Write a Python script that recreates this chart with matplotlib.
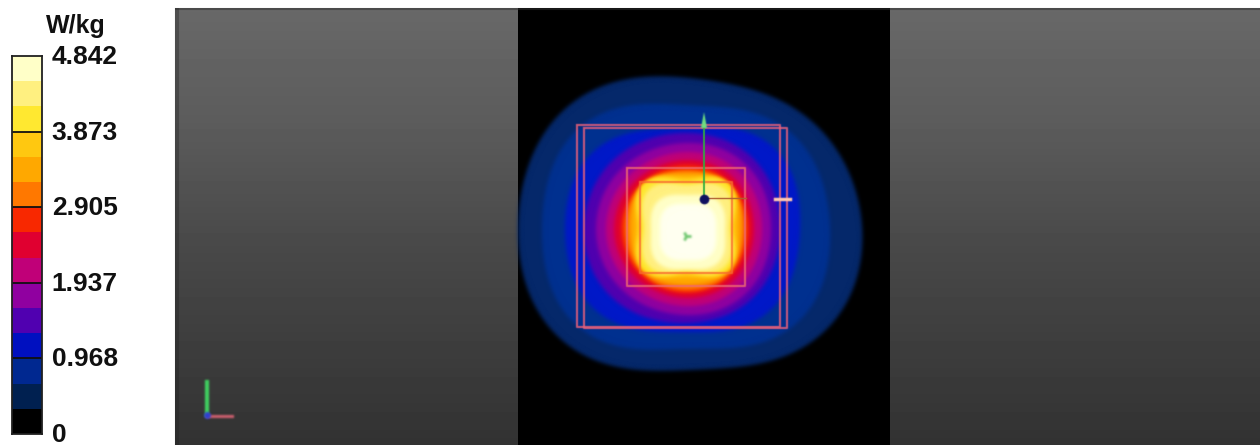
import numpy as np
import matplotlib
matplotlib.use("Agg")
import matplotlib.pyplot as plt

# ---- data ----
level_step = 4.842 / 15
band_colors = ["#000000", "#002050", "#002890", "#0010c0", "#5000b0", "#9000a0",
               "#c00078", "#e00030", "#f82800", "#ff7800", "#ffa800", "#ffc810",
               "#ffe830", "#fff080", "#ffffc8"]
tick_values = [0, 0.968, 1.937, 2.905, 3.873, 4.842]
tick_labels = ["0", "0.968", "1.937", "2.905", "3.873", "4.842"]

# colours of the contours as they look in the blurred picture
contour_colors = ["#05286a", "#003090", "#0018c8", "#5000b0", "#9000a0",
                  "#c00078", "#e00030", "#f82800", "#ff7800", "#ffa800", "#ffc810",
                  "#ffe830", "#fff080", "#ffffc8", "#fffff0"]
# contour centre x, y and radii (E, NE, N, NW, W, SW, S, SE) in image pixels
contour_cx = [690, 686, 683, 684, 686, 686, 686, 686, 686, 686, 686, 686, 687, 688, 688]
contour_cy = [225, 227, 230, 228, 229, 229, 229, 229, 229, 228, 227, 227, 228, 232, 232]
contour_r = [
    [172, 158, 147, 170, 172, 171, 145, 168],
    [144, 140, 122, 145, 144, 146, 122, 145],
    [117, 122, 102, 118, 118, 118, 102, 118],
    [96, 98, 95, 98, 100, 100, 95, 98],
    [85, 88, 86, 88, 90, 88, 86, 88],
    [76, 78, 77, 78, 80, 78, 77, 78],
    [68, 70, 69, 70, 72, 70, 69, 70],
    [63, 64, 64, 64, 65, 64, 64, 64],
    [59, 62, 59, 62, 61, 62, 61, 62],
    [55, 60, 55, 60, 56, 60, 57, 60],
    [50, 60, 50, 60, 50, 60, 50, 60],
    [46, 60, 46, 60, 46, 60, 46, 60],
    [43, 54, 43, 54, 43, 54, 43, 54],
    [37, 43, 37, 43, 37, 43, 37, 43],
    [28, 32, 28, 32, 28, 32, 28, 32],
]

panel_x = [175, 518, 890, 1260]
panel_top = 8
gradient_y = [8, 120, 250, 445]
gradient_grey = [104, 92, 72, 50]

square_edges = [(577, 780, 125, 327), (584, 787, 128, 328),
                (627, 745, 168, 286), (640, 732, 182, 273)]
square_colors = ["#e8607a", "#e8607a", "#f06a70", "#f86a30"]
probe_xy = (704, 199)
arrow_top = 112
side_mark = (775, 790)
triad_origin = (207, 415)
triad_tip_up = 382
triad_tip_right = 232
centre_mark = (686, 236)


def blur(sigma):
    def f(img, dpi):
        r = int(3 * sigma)
        k = np.exp(-0.5 * (np.arange(-r, r + 1) / sigma) ** 2)
        k /= k.sum()
        out = np.pad(img, ((r, r), (r, r), (0, 0))).astype(float)
        out[..., :3] *= out[..., 3:4]
        out = np.apply_along_axis(lambda m: np.convolve(m, k, mode="same"), 0, out)
        out = np.apply_along_axis(lambda m: np.convolve(m, k, mode="same"), 1, out)
        a = np.maximum(out[..., 3:4], 1e-4)
        out[..., :3] = np.clip(out[..., :3] / a, 0, 1)
        return out, -r, -r
    return f


W, H = 1260, 445
fig = plt.figure(figsize=(W / 100, H / 100), dpi=100, facecolor="white")
plt.rcParams["font.family"] = ["Liberation Sans", "DejaVu Sans"]

# ---- picture area, in image pixels ----
ax = fig.add_axes([0, 0, 1, 1])
ax.set_xlim(0, W)
ax.set_ylim(H, 0)
ax.axis("off")

yy = np.arange(panel_top, H)
col = np.interp(yy, gradient_y, gradient_grey)[:, None] / 255
for x0, x1 in [(panel_x[0], panel_x[1]), (panel_x[2], panel_x[3])]:
    ax.imshow(col, extent=(x0, x1, H, panel_top), cmap="gray", vmin=0, vmax=1,
              aspect="auto", zorder=1)
ax.set_xlim(0, W)
ax.set_ylim(H, 0)
ax.fill_between(panel_x[1:3], panel_top, H, color="black", lw=0, zorder=2)
ax.plot([panel_x[0], panel_x[3]], [panel_top + 1] * 2, color="#303030", lw=1.5,
        alpha=0.5, solid_capstyle="butt", zorder=2)
ax.plot([panel_x[0] + 2] * 2, [panel_top, H], color="#202020", lw=3, alpha=0.35,
        solid_capstyle="butt", zorder=2)

# closed smooth contours through the read radii (trigonometric interpolation)
theta = np.linspace(0, 2 * np.pi, 361)
for cx, cy, radii, color in zip(contour_cx, contour_cy, contour_r, contour_colors):
    spec = np.fft.rfft(radii) / len(radii)
    r = spec[0].real + sum(
        (2 if k < 4 else 1) * (spec[k] * np.exp(1j * k * theta)).real for k in range(1, 5))
    p = ax.fill(cx + r * np.cos(theta), cy - r * np.sin(theta), color=color, lw=0, zorder=3)[0]
    p.set_agg_filter(blur(2.0))

for (x0, x1, y0, y1), sq_color in zip(square_edges, square_colors):
    ln, = ax.plot([x0, x1, x1, x0, x0], [y0, y0, y1, y1, y0], color=sq_color, lw=1.5,
                  alpha=0.85, zorder=4)
    ln.set_agg_filter(blur(0.6))

g, = ax.plot([probe_xy[0]] * 2, [probe_xy[1], arrow_top + 14], color="#30b040", lw=1.3, zorder=5)
g.set_agg_filter(blur(0.5))
tri = ax.fill([probe_xy[0] - 3, probe_xy[0], probe_xy[0] + 3],
              [arrow_top + 16, arrow_top, arrow_top + 16], color="#70e080", lw=0, zorder=5)[0]
tri.set_agg_filter(blur(0.7))
h, = ax.plot([probe_xy[0], probe_xy[0] + 42], [probe_xy[1] - 1] * 2, color="#b06030", lw=1, zorder=5)
h.set_agg_filter(blur(0.4))
d, = ax.plot(*probe_xy, "o", ms=7, color="#101060", mec="none", zorder=6)
d.set_agg_filter(blur(0.6))
s, = ax.plot(side_mark, [probe_xy[1]] * 2, color="#ffc8b0", lw=2.5, zorder=6)
s.set_agg_filter(blur(0.6))
m, = ax.plot(*centre_mark, "4", ms=7, mew=2, color="#70c870", zorder=6)
m.set_agg_filter(blur(1.0))

ox, oy = triad_origin
t1, = ax.plot([ox, ox], [oy, triad_tip_up], color="#40d060", lw=3, zorder=5)
t2, = ax.plot([ox, triad_tip_right], [oy + 1, oy + 1], color="#d06070", lw=2.2, zorder=5)
t3, = ax.plot(ox, oy, "o", ms=5, color="#3040d0", mec="none", zorder=6)
for t in (t1, t2, t3):
    t.set_agg_filter(blur(1.0))

# ---- colour scale ----
cax = fig.add_axes([12 / W, 1 - 434 / H, 30 / W, 378 / H])
cax.bar(np.zeros(15), [level_step] * 15, width=1,
        bottom=np.arange(15) * level_step, color=band_colors, lw=0)
cax.set_xlim(-0.5, 0.5)
cax.set_ylim(0, 4.842)
cax.set_xticks([])
cax.set_yticks([])
for v, label in zip(tick_values, tick_labels):
    cax.annotate(label, (1, v), xycoords=("axes fraction", "data"), xytext=(7, -0.7),
                 textcoords="offset points", va="center", ha="left", fontsize=19,
                 fontweight="bold", color="#101010", annotation_clip=False)
for v in tick_values[1:-1]:
    cax.axhline(v, color="#101010", lw=1.3)
for sp in cax.spines.values():
    sp.set_color("#202020")
    sp.set_linewidth(1.3)
ax.text(76, 26, "W/kg", ha="center", va="center", fontsize=18, fontweight="bold", color="#101010")

fig.savefig("out.png", dpi=100)
